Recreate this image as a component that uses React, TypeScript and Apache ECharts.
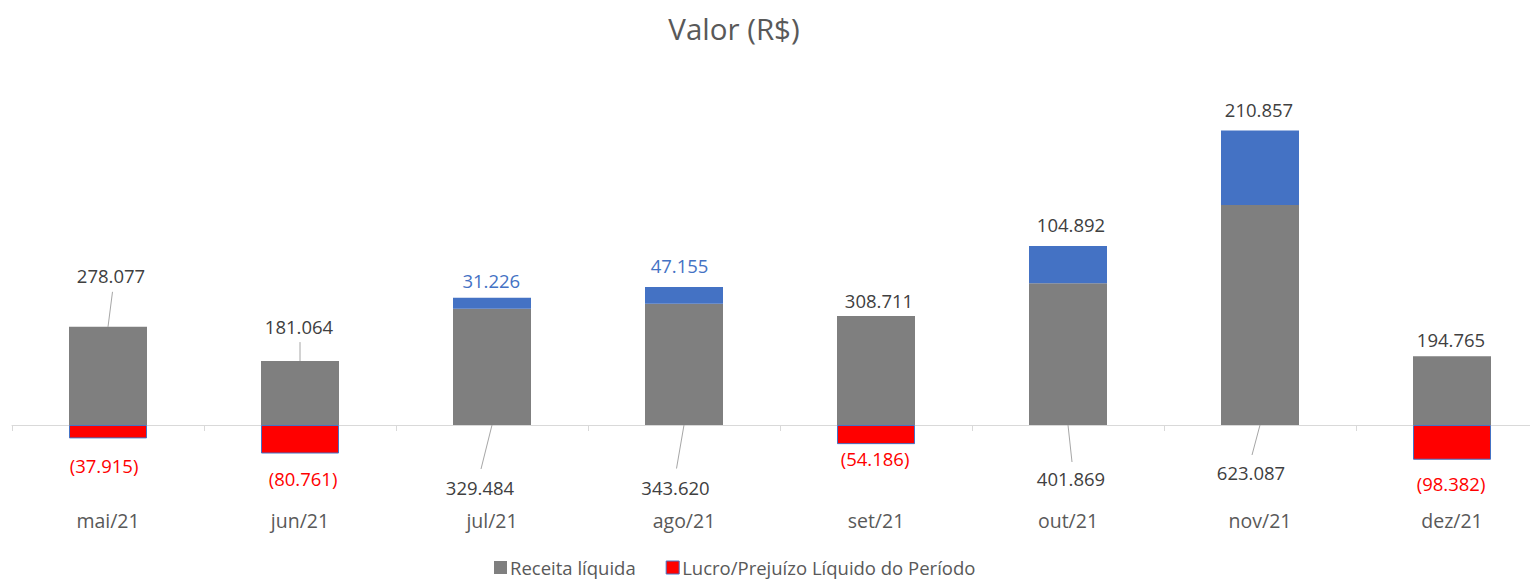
import React, { useEffect, useRef } from "react";
import * as echarts from "echarts";

const categories = ["mai/21", "jun/21", "jul/21", "ago/21", "set/21", "out/21", "nov/21", "dez/21"];
const receita = [278077, 181064, 329484, 343620, 308711, 401869, 623087, 194765];
const lucro = [-37915, -80761, 31226, 47155, -54186, 104892, 210857, -98382];

// label layout (pixel offsets, style only)
type RL = { anchor: "top" | "zero"; line?: [number, number]; text: [number, number] };
const receitaLabelLayout: RL[] = [
  { anchor: "top", line: [4.5, -35], text: [3, -51] },
  { anchor: "top", line: [0, -19], text: [-1, -35] },
  { anchor: "zero", line: [-11, 44], text: [-12, 62] },
  { anchor: "zero", line: [-7.5, 43.5], text: [-8.5, 62] },
  { anchor: "top", text: [3, -16] },
  { anchor: "zero", line: [4, 37], text: [3, 53] },
  { anchor: "zero", line: [-8, 30], text: [-9, 47] },
  { anchor: "top", text: [-1, -17] },
];
const lucroLabelOffset: [number, number][] = [
  [-4, 17.6],
  [3, 15.8],
  [-0.7, -8],
  [-4.5, -12.4],
  [-1, 5.2],
  [3, -12],
  [-1, -11.6],
  [-1, 14.6],
];
const lucroLabelColor = ["#ff0000", "#ff0000", "#4472c4", "#4472c4", "#ff0000", "#404040", "#404040", "#ff0000"];

const FONT = "'Open Sans', 'Noto Sans', sans-serif";
const LABEL_SIZE = 18.5;

function fmt(n: number): string {
  const s = String(Math.abs(Math.round(n))).replace(/\B(?=(\d{3})+(?!\d))/g, ".");
  return n < 0 ? "(" + s + ")" : s;
}

export default function App() {
  const ref = useRef<HTMLDivElement>(null);
  useEffect(() => {
    if (!ref.current) return;
    const chart = echarts.init(ref.current, null, { renderer: "svg" });
    const option: any = {
      animation: false,
      backgroundColor: "#ffffff",
      title: {
        text: "Valor (R$)",
        left: 729,
        top: 8,
        textAlign: "center",
        textStyle: { fontFamily: FONT, fontSize: 29.5, fontWeight: "normal", color: "#595959" },
      },
      legend: {
        left: 494,
        top: 558,
        padding: 0,
        itemWidth: 13,
        itemHeight: 13,
        itemGap: 30,
        icon: "rect",
        textStyle: { fontFamily: FONT, fontSize: 18.5, color: "#595959", padding: [0, 0, 0, -2] },
        data: [
          { name: "Receita líquida", itemStyle: { color: "#7f7f7f", borderWidth: 0 } },
          { name: "Lucro/Prejuízo Líquido do Período", itemStyle: { color: "#ff0000", borderColor: "#4472c4", borderWidth: 1 } },
        ],
      },
      grid: { left: 12, width: 1536, top: 107.3, height: 388.3, outerBoundsMode: "none", containLabel: false },
      xAxis: [
        {
          type: "category",
          data: categories,
          position: "bottom",
          axisLine: { onZero: true, lineStyle: { color: "#d9d9d9", width: 1 } },
          axisTick: { show: true, length: 6, lineStyle: { color: "#d9d9d9" } },
          axisLabel: { show: false },
        },
        {
          type: "category",
          data: categories,
          position: "bottom",
          axisLine: { show: false },
          axisTick: { show: false },
          axisLabel: { fontFamily: FONT, fontSize: 19.5, color: "#595959", margin: 15 },
        },
      ],
      yAxis: {
        type: "value",
        min: -200000,
        max: 900000,
        show: false,
        splitLine: { show: false },
      },
      series: [
        {
          name: "Receita líquida",
          type: "bar",
          stack: "total",
          barWidth: 78,
          data: receita,
          itemStyle: { color: "#7f7f7f" },
          label: { show: false },
        },
        {
          name: "Lucro/Prejuízo Líquido do Período",
          type: "bar",
          stack: "total",
          barWidth: 78,
          itemStyle: { color: "#ff0000", borderColor: "#4472c4", borderWidth: 1 },
          data: lucro.map((v, i) => ({
            value: v,
            itemStyle: v >= 0 ? { color: "#4472c4", borderWidth: 0 } : undefined,
            label: {
              show: true,
              position: v >= 0 ? "top" : "bottom",
              distance: 0,
              offset: lucroLabelOffset[i],
              color: lucroLabelColor[i],
              fontFamily: FONT,
              fontSize: LABEL_SIZE,
              formatter: () => fmt(v),
            },
          })),
        },
        {
          name: "receitaLabels",
          type: "custom",
          xAxisIndex: 0,
          yAxisIndex: 0,
          silent: true,
          data: receita.map((v, i) => [i, v]),
          encode: { x: 0, y: 1 },
          renderItem: (params: any, api: any) => {
            const i = params.dataIndex;
            const v = api.value(1);
            const top = api.coord([i, v]);
            const zero = api.coord([i, 0]);
            const L = receitaLabelLayout[i];
            const base = L.anchor === "top" ? top : zero;
            const children: any[] = [];
            if (L.line) {
              children.push({
                type: "line",
                shape: { x1: base[0], y1: base[1], x2: base[0] + L.line[0], y2: base[1] + L.line[1] },
                style: { stroke: "#a6a6a6", lineWidth: 1 },
              });
            }
            children.push({
              type: "text",
              x: base[0] + L.text[0],
              y: base[1] + L.text[1],
              style: {
                text: fmt(v),
                fill: "#404040",
                fontFamily: FONT,
                fontSize: LABEL_SIZE,
                align: "center",
                verticalAlign: "middle",
              },
            });
            return { type: "group", children };
          },
        },
      ],
    };
    chart.setOption(option);
    return () => chart.dispose();
  }, []);
  return (
    <div
      ref={ref}
      style={{ position: "absolute", left: 0, top: 0, width: 1530, height: 579, background: "#fff" }}
    />
  );
}
